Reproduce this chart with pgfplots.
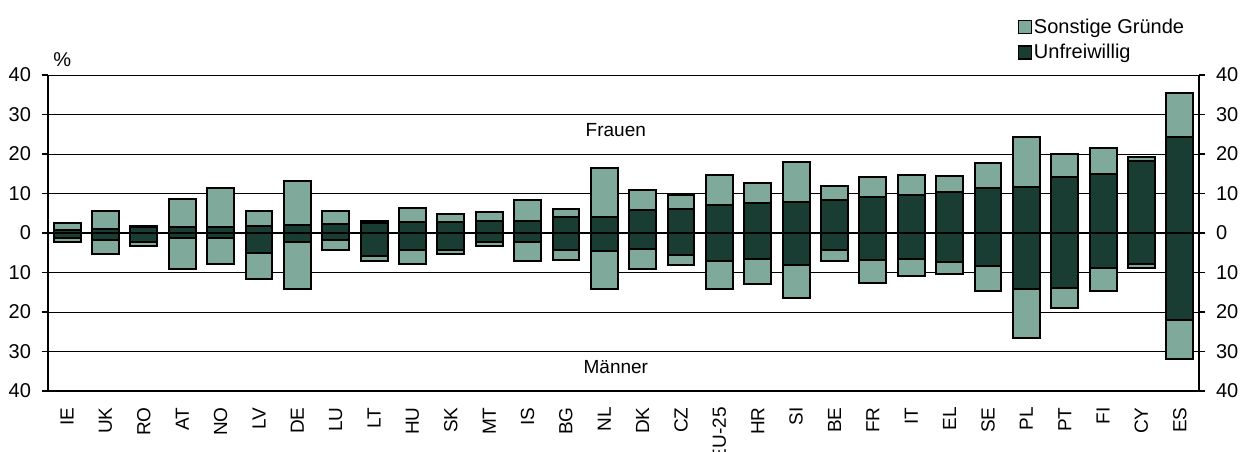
\documentclass[border=0pt]{standalone}
\usepackage{pgfplots}
\usepackage{pgfplotstable}
\pgfplotsset{compat=1.18}
\usepackage{fontspec}
\setmainfont{Liberation Sans}
\definecolor{lightg}{RGB}{127,169,155}
\definecolor{darkg}{RGB}{26,61,51}
\pgfplotstableread{
x cat fL fD mD mL
0 IE 2.6 0.7 -1.2 -2.4
1 UK 5.6 1.0 -1.8 -5.3
2 RO 1.9 1.5 -2.2 -3.3
3 AT 8.5 1.4 -1.3 -9.1
4 NO 11.4 1.4 -1.3 -7.8
5 LV 5.6 1.9 -5.0 -11.6
6 DE 13.2 2.1 -2.3 -14.1
7 LU 5.6 2.2 -1.8 -4.3
8 LT 3.1 2.5 -5.7 -7.1
9 HU 6.3 2.7 -4.3 -7.9
10 SK 4.7 2.7 -4.4 -5.3
11 MT 5.3 3.1 -2.3 -3.3
12 IS 8.4 3.0 -2.3 -7.1
13 BG 6.0 4.1 -4.3 -6.8
14 NL 16.5 4.1 -4.5 -14.1
15 DK 10.9 5.8 -4.1 -9.2
16 CZ 9.5 6.0 -5.5 -8.0
17 EU-25 14.7 7.2 -7.0 -14.3
18 HR 12.7 7.7 -6.7 -13.0
19 SI 17.9 7.9 -8.2 -16.4
20 BE 11.8 8.4 -4.3 -7.0
21 FR 14.1 9.0 -6.9 -12.7
22 IT 14.6 9.7 -6.7 -10.9
23 EL 14.5 10.5 -7.4 -10.5
24 SE 17.6 11.3 -8.3 -14.7
25 PL 24.4 11.7 -14.1 -26.5
26 PT 20.0 14.1 -13.8 -18.9
27 FI 21.5 15.0 -8.9 -14.6
28 CY 19.3 18.3 -7.9 -8.8
29 ES 35.4 24.2 -22.0 -31.9
}\data
\begin{document}
\begin{tikzpicture}[font=\fontsize{10pt}{12pt}\selectfont]
\path[use as bounding box] (-24pt,-30pt) rectangle (604.5pt,195.5pt);
\begin{axis}[
  at={(0,0)}, anchor=south west,
  width=575.5pt, height=158pt, scale only axis,
  xmin=-0.5, xmax=29.5, ymin=-40, ymax=40,
  axis x line*=bottom, axis y line*=left,
  axis line style={line width=1.2pt},
  xtick=data, xticklabels from table={\data}{cat},
  x tick style={draw=none},
  xticklabel style={rotate=90, anchor=east, inner sep=1pt, font=\fontsize{9.5pt}{11pt}\selectfont},
  xticklabel shift=4pt,
  ytick={-40,-30,...,40},
  yticklabels={40,30,20,10,0,10,20,30,40},
  y tick style={black, line width=0.9pt},
  major tick length=3pt,
  tick align=outside,
  yticklabel shift=2pt,
  ymajorgrids, grid style={black, line width=0.5pt},
  extra y ticks={0}, extra y tick labels={},
  extra y tick style={grid style={black, line width=1.2pt}, tick style={draw=none}},
  clip=false,
  legend style={at={(0.842,1.185)}, anchor=north west, draw=none, fill=none,
    row sep=2pt, inner sep=0pt,
    nodes={inner sep=1pt, anchor=west}},
  legend cell align=left,
  legend image code/.code={\draw[#1, line width=0.7pt] (0pt,-3pt) rectangle (6.5pt,3.5pt);},
]
\addplot[ybar, bar width=0.7, bar shift=0pt, fill=lightg, draw=black, line width=1pt] table[x=x, y=fL] {\data};
\addlegendentry{Sonstige Gründe}
\addplot[ybar, bar width=0.7, bar shift=0pt, fill=darkg, draw=black, line width=1pt] table[x=x, y=fD] {\data};
\addlegendentry{Unfreiwillig}
\addplot[forget plot, ybar, bar width=0.7, bar shift=0pt, fill=lightg, draw=black, line width=1pt] table[x=x, y=mL] {\data};
\addplot[forget plot, ybar, bar width=0.7, bar shift=0pt, fill=darkg, draw=black, line width=1pt] table[x=x, y=mD] {\data};
\node[font=\fontsize{9.5pt}{11pt}\selectfont] at (axis cs:14.3,26) {Frauen};
\node[font=\fontsize{9.5pt}{11pt}\selectfont] at (axis cs:14.3,-34) {Männer};
\node at (axis cs:-0.13,44) {\%};
\end{axis}
\begin{axis}[
  at={(0,0)}, anchor=south west,
  width=575.5pt, height=158pt, scale only axis,
  xmin=-0.5, xmax=29.5, ymin=-40, ymax=40,
  axis x line=none, axis y line*=right,
  axis line style={line width=1.2pt},
  ytick={-40,-30,...,40},
  yticklabels={40,30,20,10,0,10,20,30,40},
  y tick style={black, line width=0.9pt},
  major tick length=3pt,
  tick align=outside,
  yticklabel shift=2pt,
]
\addplot[draw=none] coordinates {(0,0)};
\end{axis}
\end{tikzpicture}
\end{document}
